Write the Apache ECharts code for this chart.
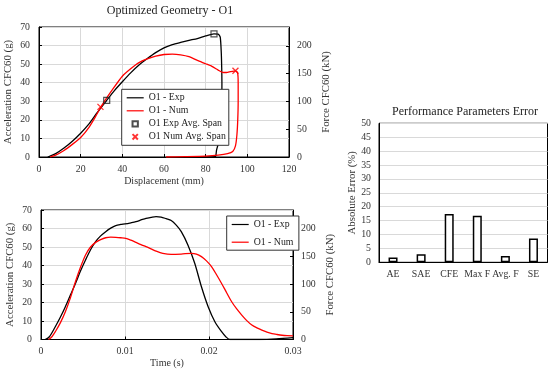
<!DOCTYPE html>
<html><head><meta charset="utf-8">
<script src="https://cdn.jsdelivr.net/npm/echarts@6/dist/echarts.min.js"></script>
<style>html,body{margin:0;padding:0;background:#fff}#c{width:550px;height:377px}</style>
</head><body><div id="c"></div>
<script>
// ---- Data ----
const dispExp = [[4.2,0],[8,1.8],[12,4.8],[16,8.5],[20,12.8],[24,17.8],[28,24],[32.5,30.5],[36,35.5],[40,40.5],[44,45.3],[48,49.5],[52,53],[56,56.2],[60,58.8],[64,60.5],[68,61.7],[72,62.8],[76,63.8],[80,65.2],[84,66.3],[86,66.2],[87,64.5],[87.5,56],[87.7,48],[87.8,40],[87.7,30],[87.3,20],[86.8,12.6],[86,7],[85.2,3.6],[84.9,0.8],[84.5,0.2],[80,0.1],[76,0.1]];
const dispNum = [[5.3,0],[8,1],[12,3.5],[16,6.8],[20,10.5],[24,16],[27,21.5],[29.5,26.5],[32,31],[36,37.5],[40,43.5],[44,47.5],[48,50.8],[52,52.8],[56,54.3],[60,55.2],[64,55.4],[68,55],[72,54],[76,52],[80,50.2],[83,48.8],[86,46.8],[88,45.6],[90,45.5],[92,46],[94.3,46.4],[95.3,45.5],[95.6,40],[95.6,30],[95.4,20],[95,12],[94.3,6],[93,3],[90.5,1.8],[86,1],[80,0.5],[70,0.2],[61,0]];
const expAvgSpan = [[32.5,30.5],[84,66.3]];
const numAvgSpan = [[29.5,27],[94.3,46.4]];
const timeExp = [[0.0005,0],[0.001,1.5],[0.0017,6.9],[0.0023,12],[0.0029,17.7],[0.0035,24],[0.0041,30.3],[0.0047,37],[0.0053,43],[0.0059,48.5],[0.0065,52.9],[0.0071,56],[0.0077,58.3],[0.0083,60.2],[0.0089,61.6],[0.0095,62.2],[0.01,62.5],[0.0107,63.1],[0.0113,63.7],[0.0119,64.6],[0.0125,65.5],[0.0131,66],[0.0137,66.4],[0.0143,66.2],[0.0149,65.3],[0.0155,64.3],[0.0161,61.8],[0.0167,58.3],[0.0175,51],[0.0183,41.2],[0.0191,28.5],[0.0199,17.7],[0.0207,9.6],[0.0215,4.2],[0.022,1.5],[0.0225,0],[0.026,0],[0.028,0.3],[0.03,1]];
const timeNum = [[0.0009,0],[0.0013,1.5],[0.0017,4.2],[0.0023,9],[0.0029,15],[0.0035,22.5],[0.0041,31.2],[0.0047,39],[0.0053,45.7],[0.0059,50],[0.0065,52.5],[0.0071,54],[0.0077,55],[0.0083,55.3],[0.0089,55.2],[0.0095,55],[0.0101,54.7],[0.0107,53.7],[0.0113,52.5],[0.0119,51.3],[0.0125,50.2],[0.0131,49],[0.0137,47.8],[0.0145,46.6],[0.0155,46],[0.0167,46.2],[0.0179,46.6],[0.0185,46.2],[0.0191,44.8],[0.0197,42.5],[0.0203,39.4],[0.0209,35],[0.0215,30.3],[0.0221,25.3],[0.0227,20.4],[0.0233,16.5],[0.0239,13.2],[0.0245,10.2],[0.0251,7.8],[0.0257,6.3],[0.0263,5.1],[0.0269,4],[0.0275,3.2],[0.0281,2.7],[0.0287,2.3],[0.0293,2.1],[0.03,2]];
const errCategories = ['AE','SAE','CFE','Max F','Avg. F','SE'];
const errValues = [1.7, 2.9, 17.4, 16.7, 2.3, 8.6];

const F = 'Liberation Serif';
const grey = '#d9d9d9';
const tickLab = {fontFamily:F, fontSize:9.8, color:'#333'};
const nameSt = {fontFamily:F, fontSize:10, color:'#333'};
const yNameSt = {fontFamily:F, fontSize:10.8, color:'#333'};
function valX(grid, max, interval, name, gap){
  return {type:'value', gridIndex:grid, min:0, max:max, interval:interval, name:name, nameLocation:'middle', nameGap:gap, nameTextStyle:nameSt,
    axisLine:{show:true, lineStyle:{color:'#000'}}, axisTick:{show:true, inside:true, length:3, lineStyle:{color:'#000'}},
    axisLabel:Object.assign({margin:7}, tickLab), splitLine:{show:true, lineStyle:{color:grey}}};
}
function leftY(grid){
  return {type:'value', gridIndex:grid, min:0, max:70, interval:10, name:'Acceleration CFC60 (g)', nameLocation:'middle', nameGap:25, nameTextStyle:yNameSt,
    axisLine:{show:true, lineStyle:{color:'#000'}}, axisTick:{show:true, inside:true, length:3, lineStyle:{color:'#000'}},
    axisLabel:Object.assign({margin:9}, tickLab), splitLine:{show:true, lineStyle:{color:grey}}};
}
function rightY(grid){
  return {type:'value', gridIndex:grid, position:'right', min:0, max:234, interval:50, name:'Force CFC60 (kN)', nameLocation:'middle', nameGap:32, nameRotate:90, nameTextStyle:yNameSt,
    axisLine:{show:true, lineStyle:{color:'#000'}}, axisTick:{show:true, inside:true, length:3, lineStyle:{color:'#000'}},
    axisLabel:Object.assign({margin:8, showMaxLabel:false}, tickLab), splitLine:{show:false}};
}
const xPath = 'path://M0,0L10,10M10,0L0,10';
const sqPath = 'path://M0,0L10,0L10,10L0,10Z';
const sqIcon = 'path://M-2.5,-2.5M12.5,12.5M0,0L10,0L10,10L0,10Z';
const xIcon = 'path://M-2.5,-2.5M12.5,12.5M0,0L10,10M10,0L0,10';
const lineIcon = 'path://M0,0M17,8M0,3.4L17,3.4L17,4.6L0,4.6Z';

const chart = echarts.init(document.getElementById('c'), null, {renderer:'canvas'});
chart.setOption({
  animation:false,
  title:[
    {text:'Optimized Geometry - O1', left:165, top:0, textAlign:'center', textStyle:{fontFamily:F, fontSize:12, fontWeight:'normal', color:'#222'}},
    {text:'Performance Parameters Error', left:460, top:101, textAlign:'center', textStyle:{fontFamily:F, fontSize:12, fontWeight:'normal', color:'#222'}}
  ],
  grid:[
    {left:39, right:261, top:27, bottom:220, show:true, borderColor:'#000', borderWidth:1},
    {left:41, right:257, top:210, bottom:37.5, show:true, borderColor:'#000', borderWidth:1},
    {left:379, right:2.5, top:123.3, bottom:114.7, show:true, borderColor:'#000', borderWidth:1}
  ],
  legend:[
    {left:121.7, top:89.3, orient:'vertical', itemGap:0, itemWidth:17, itemHeight:8, padding:[2,3,2,5],
     backgroundColor:'#fff', borderColor:'#333', borderWidth:1, borderRadius:0,
     textStyle:{fontFamily:F, fontSize:9.8, lineHeight:13, color:'#222'},
     data:[{name:'O1 - Exp', icon:lineIcon},{name:'O1 - Num', icon:lineIcon},{name:'O1 Exp Avg. Span', icon:sqIcon},{name:'O1 Num Avg. Span', icon:xIcon}]},
    {left:226.7, top:216, orient:'vertical', itemGap:4.7, itemWidth:17, itemHeight:8, padding:[2,3,1.5,5],
     backgroundColor:'#fff', borderColor:'#333', borderWidth:1, borderRadius:0,
     textStyle:{fontFamily:F, fontSize:9.8, lineHeight:13, color:'#222'},
     data:[{name:'O1 - Exp ', icon:lineIcon},{name:'O1 - Num ', icon:lineIcon}]}
  ],
  xAxis:[
    valX(0, 120, 20, 'Displacement (mm)', 19),
    Object.assign(valX(1, 0.03, 0.01, 'Time (s)', 19), {axisLabel:Object.assign({margin:7, formatter:function(v){return v===0?'0':String(+v.toFixed(2));}}, tickLab)}),
    {type:'category', gridIndex:2, data:errCategories, axisLine:{show:true, lineStyle:{color:'#000'}}, axisTick:{show:false}, axisLabel:Object.assign({margin:7, interval:0}, tickLab), splitLine:{show:false}}
  ],
  yAxis:[
    leftY(0), rightY(0), leftY(1), rightY(1),
    {type:'value', gridIndex:2, min:0, max:50, interval:5, name:'Absolute Error (%)', nameLocation:'middle', nameGap:21, nameTextStyle:yNameSt,
     axisLine:{show:true, lineStyle:{color:'#000'}}, axisTick:{show:false}, axisLabel:Object.assign({margin:8}, tickLab), splitLine:{show:true, lineStyle:{color:grey}}}
  ],
  series:[
    {name:'O1 - Exp', type:'line', xAxisIndex:0, yAxisIndex:0, data:dispExp, symbol:'none', smooth:0.2, lineStyle:{color:'#000', width:1.3}, itemStyle:{color:'#000'}, z:3},
    {name:'O1 - Num', type:'line', xAxisIndex:0, yAxisIndex:0, data:dispNum, symbol:'none', smooth:0.2, lineStyle:{color:'#ff0000', width:1.3}, itemStyle:{color:'#ff0000'}, z:3},
    {name:'O1 Exp Avg. Span', type:'scatter', xAxisIndex:0, yAxisIndex:0, data:expAvgSpan, symbol:sqPath, symbolSize:6, itemStyle:{color:'rgba(0,0,0,0)', borderColor:'#222', borderWidth:1.2}, z:4},
    {name:'O1 Num Avg. Span', type:'scatter', xAxisIndex:0, yAxisIndex:0, data:numAvgSpan, symbol:xPath, symbolSize:6, itemStyle:{color:'rgba(0,0,0,0)', borderColor:'#ff0000', borderWidth:1.3}, z:4},
    {name:'O1 - Exp ', type:'line', xAxisIndex:1, yAxisIndex:2, data:timeExp, symbol:'none', smooth:0.3, lineStyle:{color:'#000', width:1.3}, itemStyle:{color:'#000'}},
    {name:'O1 - Num ', type:'line', xAxisIndex:1, yAxisIndex:2, data:timeNum, symbol:'none', smooth:0.3, lineStyle:{color:'#ff0000', width:1.3}, itemStyle:{color:'#ff0000'}},
    {name:'Error', type:'bar', xAxisIndex:2, yAxisIndex:4, data:errValues, barWidth:9, itemStyle:{color:'#fff', borderColor:'#000', borderWidth:1.5}}
  ]
});
</script></body></html>
